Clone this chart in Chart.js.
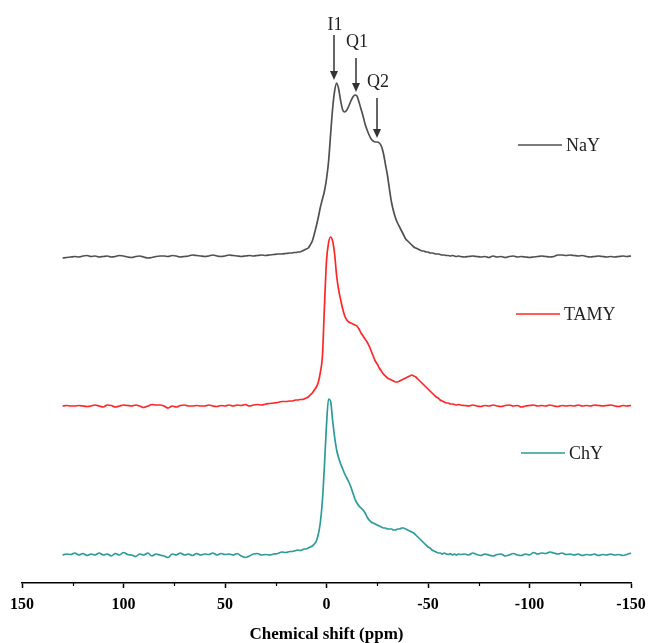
<!DOCTYPE html>
<html>
<head>
<meta charset="utf-8">
<script src="https://cdn.jsdelivr.net/npm/chart.js@4.4.1/dist/chart.umd.min.js"></script>
<style>
  html, body { margin: 0; padding: 0; overflow: hidden; background: #fff; }
  #wrap { width: 648px; height: 660px; }
</style>
</head>
<body>
<div id="wrap"><canvas id="chart" width="648" height="660"></canvas></div>
<script>
// chemical shift grid (ppm), coarse on the baseline, 1 ppm across the peaks
const SHIFT = [
  130,128,126,124,122,120,118,116,114,112,110,108,106,104,102,100,98,96,94,92,
  90,88,86,84,82,80,78,76,74,72,70,68,66,64,62,60,58,56,54,52,
  50,48,46,44,42,40,38,36,34,32,30,28,26,24,22,20,18,
  17,16,15,14,13,12,11,10,9,8,7,6,5,4,3,2,1,0,-1,-2,
  -3,-4,-5,-6,-7,-8,-9,-10,-11,-12,-13,-14,-15,-16,-17,-18,-19,-20,-21,-22,
  -23,-24,-25,-26,-27,-28,-29,-30,-31,-32,-33,-34,-35,-36,-37,-38,-39,-40,-41,-42,
  -43,-44,-45,-46,-47,-48,-49,-50,-51,-52,-53,-54,-55,-56,-57,-58,-59,-60,-61,-62,
  -63,-64,-65,-66,
  -68,-70,-72,-74,-76,-78,-80,-82,-84,-86,-88,-90,-92,-94,-96,-98,-100,-102,-104,-106,
  -108,-110,-112,-114,-116,-118,-120,-122,-124,-126,-128,-130,-132,-134,-136,-138,-140,-142,-144,-146,
  -148,-150
];

// intensities (arbitrary units) for each sample
const NAY = [
  -1,-0.5,0,0.5,0,1,1.5,0.5,1,0, 0.5,1,0,0.5,1.5,1,0,-0.5,0.5,1,
  0,-1,-0.5,0.5,1,1,0.5,1.5,1,0, 0.5,1,2,1.5,1,0.5,1,2,1,0.5,
  1,2,1.5,1,0.5,1,1.5,1,1.5,2, 1.5,2,2.5,3,3,3.5,4,
  4,4.5,4.5,5,5,6,7,8,9,12, 16,23,31,40,50,58,66,78,95,122,
  148,166,174,168,156,147,145,147,151,156, 160,162,161,155,148,141,133,127,122,118,
  116,115,115,114,111,104,93,82,68,55, 46,39,34,30,26,22,18,16,14,12,
  10,9,8,7,6,6,5,5,4,4, 3.5,3,3,2.5,2,2,1.5,1.5,1,1.5,
  1,0.5,1,0.5,
  0,0.5,1,0.5,0,0.5,-0.5,1,0,0.5, -0.5,0.5,1,0,0.5,0,-0.5,0,0.5,1,
  0.5,0,0.5,2,2,1.5,2,1.5,1,1.5, 0.5,0,0.5,1,0.5,0,0.5,0,0.5,1,
  0.5,1
];

const TAMY = [
  0,0.5,0,0,0.5,0,-0.5,0,1,0, -1,1,0.5,-1,0,1,0.5,0,1,0,
  -1.5,0,1.5,1,1,0,-2,0,-1,0.5, 1,0,0,0.5,0,0,1,0,-0.5,0.5,
  0,1,0,1,0.5,1.5,0,1,1.5,1, 2,2.5,3,3.5,4.5,4.5,5,
  5,5.5,6,6,6.5,6.5,7,8,9,11, 13,16,19,24,34,50,100,145,163,169,
  165,152,130,116,106,97,90,86,84,83, 82,81,80,77,73,70,67,64,60,55,
  50,45,42,38,35,32,30,28,27,26, 25,24,24,25,26,27,28,29,30,31,
  30,29,27,25,23,21,19,17,15,13, 11,9,8,6,5,4,3,3,2,2,
  1.5,1,1.5,1,
  0.5,0,1,0,-0.5,0.5,0,1,0,-0.5, 0.5,1,0,0.5,-1,0,0.5,1,0,0.5,
  0,1,0,-0.5,0.5,0,0.5,0,1,0, 0.5,0,1,0.5,0,0.5,1,0,-0.5,0.5,
  0,0.5
];

const CHY = [
  0,1,0.5,2,0,1.5,-0.5,1,0,2, 0,1,-1,1.5,0,2.5,0.5,0,-1.5,1,
  0,2,-1,1,0,-1,-2.5,1,0,2, 0,1,-0.5,1.5,0,1,0.5,2,0,1.5,
  0.5,1,0,1.5,-1,-2.5,-1,1,1.5,0, 0.5,0,1,1.5,3,2.5,3.5,
  3.5,4,4.5,5,4.5,5,6,6,7,8, 9,11,14,21,33,55,90,130,156,154,
  135,118,105,97,91,86,81,77,73,68, 62,56,52,49,47,45,42,38,35,33,
  32,31,30,29,28,27,27,26,26,26, 25,25,26,26,27,27,26,25,24,23,
  22,20,18,16,14,12,10,8,7,5, 4,3,2,2,1,2,1,0.5,1.5,0,
  1,0,1,0.5,
  1,0,2,0.5,-0.5,1,0,-1,0.5,1, -1,0,1.5,0,-0.5,1,0,2.5,1,2,
  1.5,3,2,1,2,0.5,1,0,1,-0.5, 0.5,0,1,-0.5,0.5,0,1,0,0.5,-0.5,
  0.5,2
];

// vertical stacking offsets of the three spectra
const OFFSETS = { NaY: 326, TAMY: 177, ChY: 28 };

const MINOR_TICKS = [125, 75, 25, -25, -75, -125];

// peak labels on the NaY trace
const ARROWS = [
  { label: "I1", ppm: -3.7, len: 45, gap: 10 },
  { label: "Q1", ppm: -14.5, len: 34, gap: 16 },
  { label: "Q2", ppm: -24.9, len: 40, gap: 16 }
];

function series(vals, off) {
  return SHIFT.map((s, i) => ({ x: s, y: vals[i] + off }));
}

const SERIF = "'Liberation Serif', 'Times New Roman', serif";

const overlay = {
  id: "overlay",
  afterDraw(chart) {
    const { ctx } = chart;
    const x = chart.scales.x, y = chart.scales.y;
    ctx.save();

    // minor ticks
    ctx.strokeStyle = "#000";
    ctx.lineWidth = 1.2;
    MINOR_TICKS.forEach(v => {
      const px = Math.round(x.getPixelForValue(v)) + 0.5;
      ctx.beginPath();
      ctx.moveTo(px, y.bottom);
      ctx.lineTo(px, y.bottom + 3);
      ctx.stroke();
    });

    // legend entries next to each trace
    const legendPos = [
      { x: 518, y: 145 },
      { x: 516, y: 314 },
      { x: 521, y: 453 }
    ];
    chart.data.datasets.forEach((ds, i) => {
      const p = legendPos[i];
      ctx.strokeStyle = ds.borderColor;
      ctx.lineWidth = 1.6;
      ctx.beginPath();
      ctx.moveTo(p.x, p.y);
      ctx.lineTo(p.x + 44, p.y);
      ctx.stroke();
      ctx.fillStyle = "#222";
      ctx.font = "18px " + SERIF;
      ctx.textAlign = "left";
      ctx.textBaseline = "middle";
      ctx.fillText(ds.label, p.x + 48, p.y + 1);
    });

    // arrows
    ARROWS.forEach(a => {
      let top = -Infinity;
      SHIFT.forEach((s, i) => {
        if (Math.abs(s - a.ppm) <= 2) top = Math.max(top, NAY[i]);
      });
      const px = Math.round(x.getPixelForValue(a.ppm));
      const tip = y.getPixelForValue(top + OFFSETS.NaY) - 3;
      const start = tip - a.len;
      ctx.strokeStyle = "#333";
      ctx.fillStyle = "#333";
      ctx.lineWidth = 1.5;
      ctx.beginPath();
      ctx.moveTo(px, start);
      ctx.lineTo(px, tip - 8);
      ctx.stroke();
      ctx.beginPath();
      ctx.moveTo(px - 4, tip - 9);
      ctx.lineTo(px + 4, tip - 9);
      ctx.lineTo(px, tip);
      ctx.closePath();
      ctx.fill();
      ctx.fillStyle = "#222";
      ctx.font = "18px " + SERIF;
      ctx.textAlign = "center";
      ctx.textBaseline = "middle";
      ctx.fillText(a.label, px + 1, start - a.gap);
    });

    ctx.restore();
  }
};

const chart = new Chart(document.getElementById("chart"), {
  type: "line",
  data: {
    datasets: [
      { label: "NaY", data: series(NAY, OFFSETS.NaY), borderColor: "#505050" },
      { label: "TAMY", data: series(TAMY, OFFSETS.TAMY), borderColor: "#ff2626" },
      { label: "ChY", data: series(CHY, OFFSETS.ChY), borderColor: "#2a9b98" }
    ]
  },
  options: {
    responsive: false,
    animation: false,
    devicePixelRatio: 1,
    layout: { padding: { left: 22, right: 17, top: 0, bottom: 0 } },
    elements: {
      line: { borderWidth: 1.7, tension: 0.3, cubicInterpolationMode: "monotone", fill: false },
      point: { radius: 0 }
    },
    datasets: { line: { clip: false } },
    plugins: {
      legend: { display: false },
      tooltip: { enabled: false }
    },
    scales: {
      x: {
        type: "linear",
        min: -150,
        max: 150,
        reverse: true,
        border: { color: "#000", width: 1.5 },
        grid: { drawOnChartArea: false, drawTicks: true, tickLength: 5, color: "#000", tickWidth: 1.5 },
        ticks: {
          stepSize: 50,
          padding: 7,
          color: "#000",
          font: { family: SERIF, size: 16, weight: "bold" },
          callback: v => String(v)
        },
        title: {
          display: true,
          text: "Chemical shift (ppm)",
          color: "#000",
          font: { family: SERIF, size: 17, weight: "bold" },
          padding: { top: 0, bottom: 15 }
        },
        afterFit(scale) {
          scale.height = 77;
          scale.paddingLeft = 0;
          scale.paddingRight = 0;
        }
      },
      y: {
        display: false,
        min: 0,
        max: 583
      }
    }
  },
  plugins: [overlay]
});
</script>
</body>
</html>
